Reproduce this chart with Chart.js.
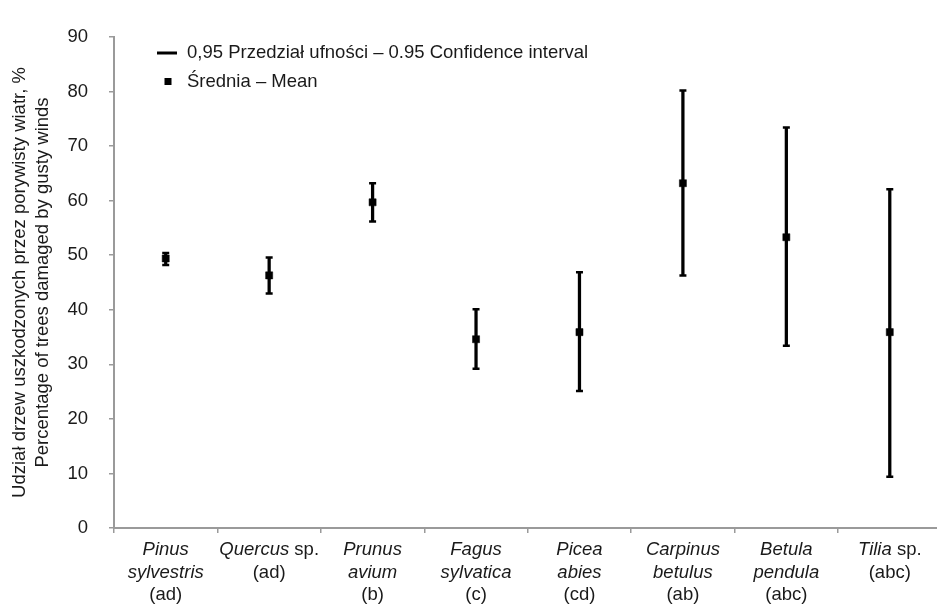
<!DOCTYPE html>
<html>
<head>
<meta charset="utf-8">
<script src="https://cdn.jsdelivr.net/npm/chart.js@4"></script>
<style>
  html, body { margin: 0; padding: 0; background: #fff; overflow: hidden; }
  #wrap { position: relative; width: 948px; height: 606px; }
</style>
</head>
<body>
<div id="wrap"><canvas id="wykres"></canvas></div>
<script>
const species = ["Pinus sylvestris", "Quercus sp.", "Prunus avium", "Fagus sylvatica",
  "Picea abies", "Carpinus betulus", "Betula pendula", "Tilia sp."];
const groups = ["(ad)", "(ad)", "(b)", "(c)", "(cd)", "(ab)", "(abc)", "(abc)"];
const means = [49.4, 46.3, 59.7, 34.6, 35.9, 63.2, 53.3, 35.9];
const ciLow = [48.2, 43.0, 56.2, 29.2, 25.1, 46.3, 33.4, 9.4];
const ciHigh = [50.4, 49.6, 63.2, 40.1, 46.9, 80.2, 73.4, 62.1];
const yTicks = [0, 10, 20, 30, 40, 50, 60, 70, 80, 90];

const labelCI = "0,95 Przedział ufności – 0.95 Confidence interval";
const labelMean = "Średnia – Mean";
const yTitle = ["Udział drzew uszkodzonych przez porywisty wiatr, %",
  "Percentage of trees damaged by gusty winds"];

const FONT = "'Liberation Sans', Arial, sans-serif";
const FS = 18.5;
const TXT = "#1a1a1a";
const AXIS = "#9a9a9a";

// x labels: genus italic, "sp." upright, group letters upright
const xLabels = {
  id: "xLabels",
  afterDraw(chart) {
    const ctx = chart.ctx;
    const x = chart.scales.x;
    const top = chart.chartArea.bottom + 22;
    const lh = 22.5;
    const it = "italic " + FS + "px " + FONT;
    const up = FS + "px " + FONT;
    ctx.save();
    ctx.fillStyle = TXT;
    ctx.textBaseline = "middle";
    species.forEach((s, i) => {
      const cx = x.getPixelForValue(i);
      const parts = s.split(" ");
      let row = 0;
      if (parts[1] === "sp.") {
        ctx.font = it;
        const w1 = ctx.measureText(parts[0]).width;
        ctx.font = up;
        const w2 = ctx.measureText(" sp.").width;
        const sx = cx - (w1 + w2) / 2;
        ctx.textAlign = "left";
        ctx.font = it;
        ctx.fillText(parts[0], sx, top);
        ctx.font = up;
        ctx.fillText(" sp.", sx + w1, top);
        row = 1;
      } else {
        ctx.textAlign = "center";
        ctx.font = it;
        ctx.fillText(parts[0], cx, top);
        ctx.fillText(parts[1], cx, top + lh);
        row = 2;
      }
      ctx.textAlign = "center";
      ctx.font = up;
      ctx.fillText(groups[i], cx, top + row * lh);
    });
    ctx.restore();
  }
};

// legend inside the plot, top left
const innerLegend = {
  id: "innerLegend",
  afterDraw(chart) {
    const ctx = chart.ctx;
    ctx.save();
    ctx.strokeStyle = "#000";
    ctx.lineWidth = 3;
    ctx.beginPath();
    ctx.moveTo(157, 53);
    ctx.lineTo(177, 53);
    ctx.stroke();
    ctx.fillStyle = "#000";
    ctx.fillRect(164.5, 78, 7, 7);
    ctx.fillStyle = TXT;
    ctx.font = FS + "px " + FONT;
    ctx.textBaseline = "middle";
    ctx.textAlign = "left";
    ctx.fillText(labelCI, 187, 53);
    ctx.fillText(labelMean, 187, 82);
    ctx.restore();
  }
};

new Chart(document.getElementById("wykres"), {
  data: {
    labels: species,
    datasets: [
      {
        type: "line",
        label: labelMean,
        data: means,
        showLine: false,
        pointStyle: "rect",
        pointRadius: 5,
        pointBackgroundColor: "#000",
        pointBorderColor: "#000",
        pointBorderWidth: 0.5,
        order: 0,
      },
      {
        type: "line",
        label: "ciHigh",
        data: ciHigh,
        showLine: false,
        pointStyle: "line",
        pointRadius: 3.5,
        pointBorderColor: "#000",
        pointBorderWidth: 2.5,
        order: 1,
      },
      {
        type: "line",
        label: "ciLow",
        data: ciLow,
        showLine: false,
        pointStyle: "line",
        pointRadius: 3.5,
        pointBorderColor: "#000",
        pointBorderWidth: 2.5,
        order: 1,
      },
      {
        type: "bar",
        label: labelCI,
        data: ciLow.map((v, i) => [v, ciHigh[i]]),
        backgroundColor: "#000",
        barThickness: 2.6,
        grouped: false,
        order: 2,
      },
    ],
  },
  options: {
    responsive: true,
    maintainAspectRatio: false,
    animation: false,
    layout: { padding: { top: 37, right: 0, bottom: 0, left: 0 } },
    plugins: {
      legend: { display: false },
      tooltip: { enabled: false },
    },
    scales: {
      x: {
        type: "category",
        offset: true,
        grid: { display: true, drawOnChartArea: false, offset: true, color: AXIS, tickLength: 5, lineWidth: 1.5 },
        border: { color: AXIS, width: 2 },
        ticks: { display: false },
        afterFit(scale) { scale.height = 78; },
      },
      y: {
        min: 0,
        max: 90,
        afterBuildTicks(scale) { scale.ticks = yTicks.map((v) => ({ value: v })); },
        grid: { drawOnChartArea: false, color: AXIS, tickLength: 5, lineWidth: 1.5 },
        border: { color: AXIS, width: 2 },
        ticks: { color: TXT, font: { family: FONT, size: FS }, padding: 21 },
        title: {
          display: true,
          text: yTitle,
          color: TXT,
          font: { family: FONT, size: FS, lineHeight: 1.243 },
          padding: { top: 8.5, bottom: 0 },
        },
        afterFit(scale) { scale.width = 114; },
      },
    },
  },
  plugins: [xLabels, innerLegend],
});
</script>
</body>
</html>
